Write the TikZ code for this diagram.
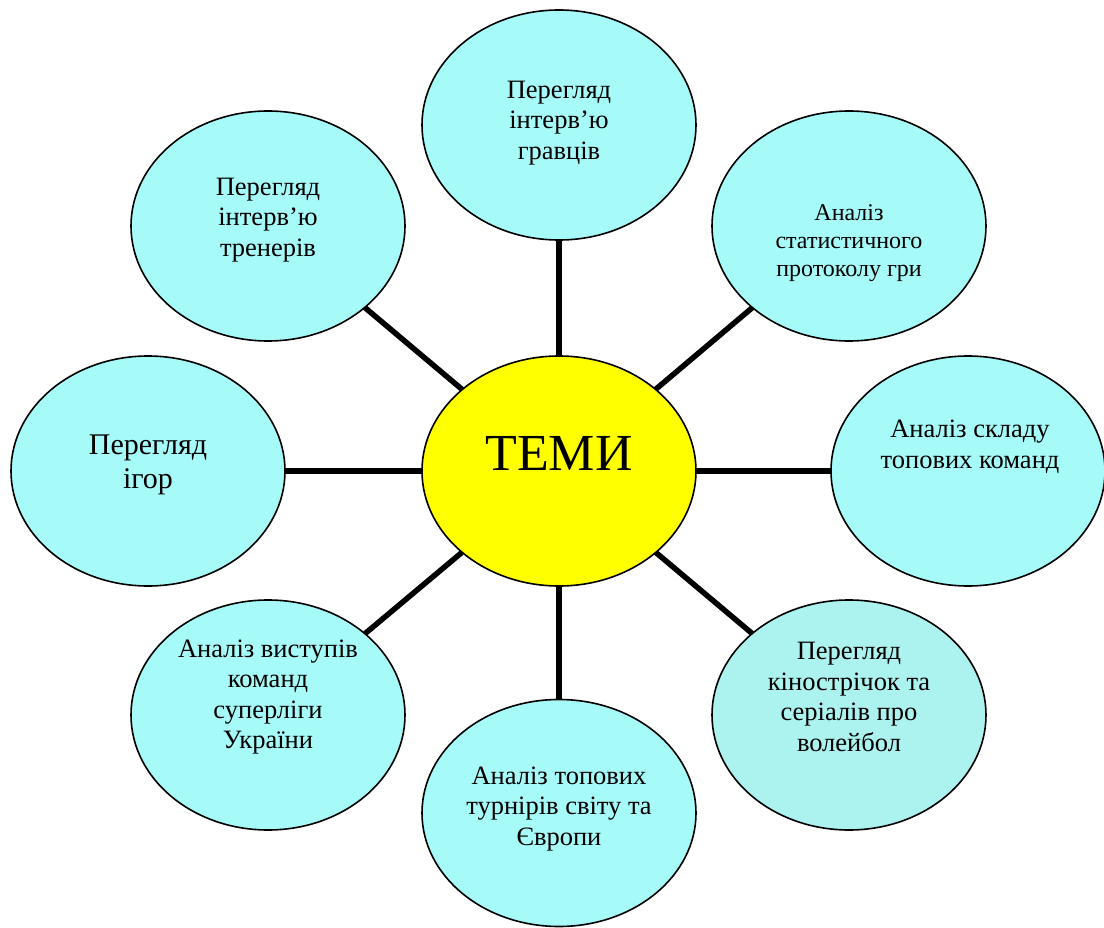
\documentclass[tikz,border=0pt]{standalone}
\usepackage{fontspec}
\setmainfont{Liberation Serif}
\usetikzlibrary{shapes.geometric,backgrounds}

\definecolor{topicfill}{RGB}{166,250,248}
\definecolor{topicfillalt}{RGB}{172,242,238}
\definecolor{hubfill}{RGB}{255,255,0}

\tikzset{
  topic/.style={ellipse, draw=black, line width=1.6pt, fill=topicfill,
    minimum width=274pt, minimum height=230pt, inner sep=0pt, outer sep=0pt},
  caption/.style={align=center, text=black, inner sep=0pt},
  txtn/.style={font=\fontsize{26.5}{30.5}\selectfont},
  spoke/.style={line width=5.5pt, draw=black},
}

\begin{document}
\begin{tikzpicture}[x=1pt,y=-1pt]
\useasboundingbox (0,0) rectangle (1104,928);

% central topic
\node[topic, fill=hubfill,
  label={[caption, font=\fontsize{52}{60}\selectfont, yshift=18pt]center:ТЕМИ}]
  (hub) at (559,471) {};

% surrounding topics, clockwise from the top
\node[topic, label={[caption, txtn, yshift=2pt]center:Перегляд\\інтерв’ю\\гравців}]
  (top) at (559,125) {};
\node[topic, label={[caption, font=\fontsize{24}{28}\selectfont, yshift=-17pt]center:Аналіз\\статистичного\\протоколу гри}]
  (topright) at (849,226) {};
\node[topic, label={[caption, txtn, yshift=24pt, xshift=2pt]center:Аналіз складу\\топових команд}]
  (right) at (968,471) {};
\node[topic, fill=topicfillalt, label={[caption, txtn, yshift=18pt]center:Перегляд\\кінострічок та\\серіалів про\\волейбол}]
  (botright) at (849,715) {};
\node[topic, minimum height=227pt, label={[caption, txtn, yshift=4pt]center:Аналіз топових\\турнірів світу та\\Європи}]
  (bottom) at (559,813) {};
\node[topic, label={[caption, txtn, yshift=18pt]center:Аналіз виступів\\команд\\суперліги\\України}]
  (botleft) at (268,715) {};
\node[topic, label={[caption, font=\fontsize{30}{34}\selectfont, yshift=6pt]center:Перегляд\\ігор}]
  (left) at (148,471) {};
\node[topic, label={[caption, txtn, yshift=6pt]center:Перегляд\\інтерв’ю\\тренерів}]
  (topleft) at (268,226) {};

% spokes from the centre to every topic
\begin{pgfonlayer}{background}
  \foreach \t in {top,topright,right,botright,bottom,botleft,left,topleft}
    \draw[spoke] (hub) -- (\t);
\end{pgfonlayer}
\end{tikzpicture}
\end{document}
